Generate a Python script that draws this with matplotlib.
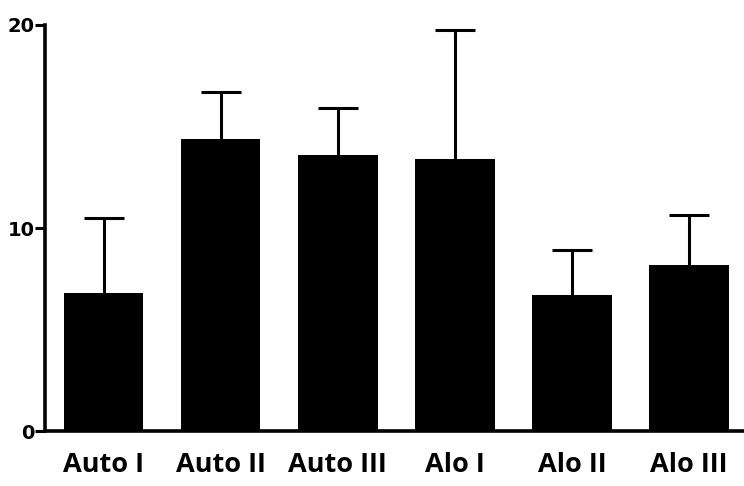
import matplotlib
matplotlib.use("Agg")
import matplotlib.pyplot as plt
import numpy as np

categories = ["Auto I", "Auto II", "Auto III", "Alo I", "Alo II", "Alo III"]
means = [6.8, 14.4, 13.6, 13.4, 6.7, 8.2]
errors = [3.7, 2.3, 2.3, 6.35, 2.2, 2.45]
yticks = [0, 10, 20]

fig = plt.figure(figsize=(7.44, 4.86), dpi=100)
ax = fig.add_axes([0.0605, 0.113, 0.9395, 0.8356])

x = np.arange(len(categories))
ax.bar(x, means, width=0.68, color="black", zorder=2)
eb = ax.errorbar(x, means, yerr=[np.zeros(len(errors)), errors], fmt="none",
                 ecolor="black", elinewidth=2.2, capsize=14.5, capthick=2.2, zorder=1)
eb[1][0].set_visible(False)

ax.set_xlim(-0.5, 5.47)
ax.set_ylim(0, 20)
ax.set_yticks(yticks)
ax.set_yticklabels([str(t) for t in yticks], fontsize=14, fontweight="bold",
                   family="DejaVu Sans")
ax.set_xticks(x)
ax.set_xticklabels(categories, fontsize=19.5, fontweight="bold", family="Open Sans")
ax.tick_params(axis="x", length=0, pad=15)
ax.tick_params(axis="y", length=7, width=2.2, pad=0.5)

for s in ["top", "right"]:
    ax.spines[s].set_visible(False)
for s in ["left", "bottom"]:
    ax.spines[s].set_linewidth(2.6)

fig.savefig("out.png", dpi=100)
